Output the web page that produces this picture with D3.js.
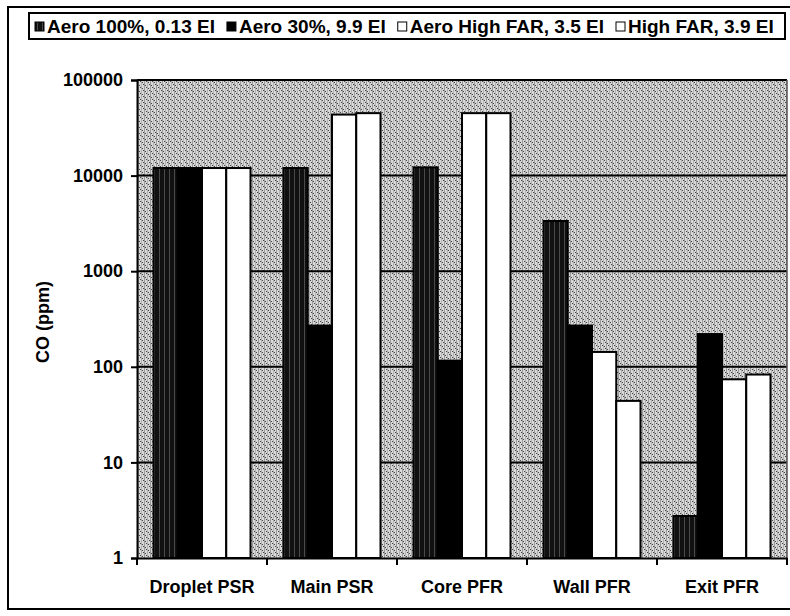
<!DOCTYPE html>
<html>
<head>
<meta charset="utf-8">
<script src="https://cdn.jsdelivr.net/npm/d3@7/dist/d3.min.js"></script>
<style>
  html, body { margin: 0; padding: 0; background: #fff; }
  svg { display: block; font-family: "Liberation Sans", Arial, sans-serif; }
</style>
</head>
<body>
<div id="chart"></div>
<script>
// CO levels per reactor zone, log scale.
const categories = ['Droplet PSR', 'Main PSR', 'Core PFR', 'Wall PFR', 'Exit PFR'];
const seriesNames = ['Aero 100%, 0.13 EI', 'Aero 30%, 9.9 EI', 'Aero High FAR, 3.5 EI', 'High FAR, 3.9 EI'];
const aero100 = [12000, 12000, 12200, 3350, 2.75];
const aero30 = [12000, 270, 116, 270, 220];
const aeroHighFar = [12000, 43500, 45000, 143, 74];
const highFar = [12000, 45000, 45000, 44, 83];
const yTicks = [1, 10, 100, 1000, 10000, 100000];

const seriesValues = [aero100, aero30, aeroHighFar, highFar];
const fills = ['url(#hatch)', '#000', '#fff', '#fff'];

const W = 790, H = 616;
const plot = { left: 137, right: 787, top: 80, bottom: 558 };

const svg = d3.select('#chart').append('svg')
  .attr('width', W).attr('height', H);

const defs = svg.append('defs');

// Stippled grey background of the plot area.
const bg = defs.append('pattern').attr('id', 'stipple')
  .attr('patternUnits', 'userSpaceOnUse').attr('width', 6).attr('height', 6);
bg.append('rect').attr('width', 6).attr('height', 6).attr('fill', '#d8d8d8');
bg.append('rect').attr('x', 0).attr('width', 1).attr('height', 6).attr('fill', '#999');
bg.append('rect').attr('x', 3).attr('width', 1).attr('height', 6).attr('fill', '#b0b0b0');
[[1, 1], [4, 4], [2, 3], [5, 0]].forEach(([x, y]) =>
  bg.append('rect').attr('x', x).attr('y', y).attr('width', 1).attr('height', 1).attr('fill', '#444'));

// Dark, vertically streaked fill for the first series.
const hatch = defs.append('pattern').attr('id', 'hatch')
  .attr('patternUnits', 'userSpaceOnUse').attr('width', 5).attr('height', 4);
hatch.append('rect').attr('width', 5).attr('height', 4).attr('fill', '#111');
hatch.append('rect').attr('x', 2).attr('width', 1).attr('height', 4).attr('fill', '#4a4a4a');

// Outer chart frame.
svg.append('rect')
  .attr('x', 8).attr('y', 7).attr('width', W).attr('height', 602)
  .attr('fill', 'none').attr('stroke', '#000').attr('stroke-width', 2);

const x0 = d3.scaleBand().domain(categories).range([plot.left, plot.right]);
const x1 = d3.scaleBand().domain(d3.range(seriesNames.length))
  .range([0, x0.bandwidth()]).paddingOuter(0.68);
const y = d3.scaleLog().domain([1, 100000]).range([plot.bottom, plot.top]);

// Plot background.
svg.append('rect')
  .attr('x', plot.left).attr('y', plot.top)
  .attr('width', plot.right - plot.left).attr('height', plot.bottom - plot.top)
  .attr('fill', 'url(#stipple)');

// Gridlines.
svg.append('g').selectAll('line')
  .data(yTicks.filter(d => d > 1))
  .join('line')
    .attr('x1', plot.left).attr('x2', plot.right)
    .attr('y1', d => y(d)).attr('y2', d => y(d))
    .attr('stroke', '#000').attr('stroke-width', 2);

// Plot right edge.
svg.append('line')
  .attr('x1', plot.right).attr('x2', plot.right)
  .attr('y1', plot.top).attr('y2', plot.bottom)
  .attr('stroke', '#555').attr('stroke-width', 1.5);

// Bars.
const groups = svg.append('g').selectAll('g')
  .data(categories)
  .join('g')
    .attr('transform', d => `translate(${x0(d)},0)`);

groups.selectAll('rect')
  .data((c, ci) => seriesValues.map((vals, si) => ({ si, v: vals[ci] })))
  .join('rect')
    .attr('x', d => x1(d.si))
    .attr('width', x1.bandwidth())
    .attr('y', d => y(d.v))
    .attr('height', d => y(1) - y(d.v))
    .attr('fill', d => fills[d.si])
    .attr('stroke', '#000').attr('stroke-width', 2);

// Y axis.
const yAxis = svg.append('g')
  .attr('transform', `translate(${plot.left},0)`)
  .call(d3.axisLeft(y).tickValues(yTicks).tickFormat(d3.format('d')).tickSize(6).tickPadding(8));
yAxis.select('.domain').attr('stroke-width', 2);
yAxis.selectAll('.tick line').attr('stroke-width', 2);
yAxis.selectAll('.tick text')
  .attr('font-size', 18).attr('font-weight', 'bold')
  .attr('font-family', '"Liberation Sans", Arial, sans-serif').attr('fill', '#000');

// X axis.
const xAxis = svg.append('g')
  .attr('transform', `translate(0,${plot.bottom})`)
  .call(d3.axisBottom(x0).tickSize(0).tickPadding(22));
xAxis.select('.domain').attr('stroke-width', 2);
xAxis.selectAll('.tick text')
  .attr('font-size', 18).attr('font-weight', 'bold')
  .attr('font-family', '"Liberation Sans", Arial, sans-serif').attr('fill', '#000');
// Category separators sit between bands, Excel style.
xAxis.append('g').selectAll('line')
  .data(categories.map(c => x0(c)).concat([plot.right]))
  .join('line')
    .attr('x1', d => d).attr('x2', d => d)
    .attr('y1', 0).attr('y2', 7)
    .attr('stroke', '#000').attr('stroke-width', 2);

// Y axis title.
svg.append('text')
  .attr('transform', `translate(49,${(plot.top + plot.bottom) / 2 + 3}) rotate(-90)`)
  .attr('text-anchor', 'middle')
  .attr('font-size', 18).attr('font-weight', 'bold')
  .text('CO (ppm)');

// Legend box across the top.
svg.append('rect')
  .attr('x', 29).attr('y', 13).attr('width', 756).attr('height', 26)
  .attr('fill', '#fff').attr('stroke', '#000').attr('stroke-width', 2);

let lx = 35;
seriesNames.forEach((name, i) => {
  svg.append('rect')
    .attr('x', lx).attr('y', 22).attr('width', 9).attr('height', 9)
    .attr('fill', fills[i]).attr('stroke', '#000').attr('stroke-width', 1);
  const t = svg.append('text')
    .attr('x', lx + 12).attr('y', 33)
    .attr('font-size', 19).attr('font-weight', 'bold')
    .text(name);
  lx += 12 + t.node().getComputedTextLength() + 12;
});
</script>
</body>
</html>
